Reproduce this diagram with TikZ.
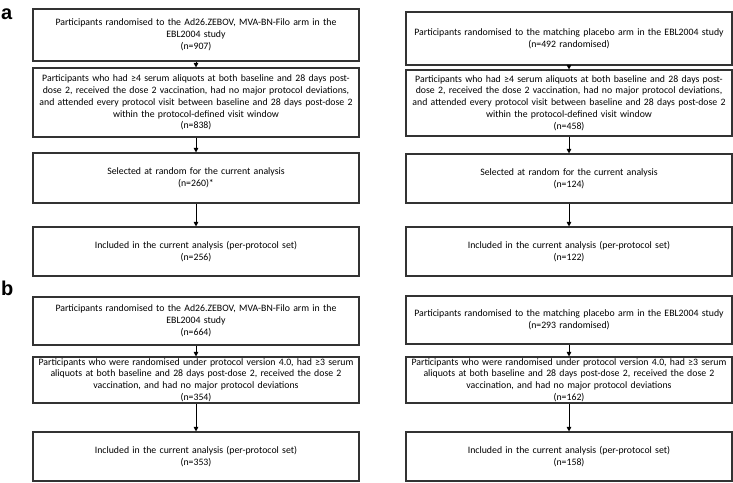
\documentclass[tikz,border=0pt]{standalone}
\usepackage{fontspec}
\setmainfont{Carlito}
\newfontfamily\lblfont{Liberation Sans}
\usetikzlibrary{arrows.meta}
\definecolor{boxline}{HTML}{333333}
\begin{document}
\begin{tikzpicture}[x=1pt,y=-1pt,
  bx/.style={draw=boxline, line width=1.1pt, inner sep=0pt, align=center,
    text width=322pt, minimum width=326pt,
    font=\fontsize{9.8}{11.8}\selectfont},
  arr/.style={-{Triangle[length=4.5pt,width=4.5pt]}, line width=0.9pt, black},
  panel/.style={font=\lblfont\bfseries\fontsize{20}{20}\selectfont, anchor=base west, inner sep=0pt}
]
\useasboundingbox (0,0) rectangle (733,482);
\node[panel] (pa) at (1,19) {a};
\node[panel] (pb) at (1,295) {b};
% panel a, left
\node[bx, minimum height=52pt] (a1) at (196,35) {Participants randomised to the Ad26.ZEBOV, MVA-BN-Filo arm in the\\EBL2004 study\\(n=907)};
\node[bx, minimum height=69pt] (a2) at (196,102.5) {Participants who had ≥4 serum aliquots at both baseline and 28 days post-\\dose 2, received the dose 2 vaccination, had no major protocol deviations,\\and attended every protocol visit between baseline and 28 days post-dose 2\\within the protocol-defined visit window\\(n=838)};
\node[bx, minimum height=50pt] (a3) at (196,178) {Selected at random for the current analysis\\(n=260)*};
\node[bx, minimum height=49pt] (a4) at (196,251.5) {Included in the current analysis (per-protocol set)\\(n=256)};
% panel a, right
\node[bx, minimum height=53pt] (c1) at (569,38.5) {Participants randomised to the matching placebo arm in the EBL2004 study\\(n=492 randomised)};
\node[bx, minimum height=66pt] (c2) at (569,103) {Participants who had ≥4 serum aliquots at both baseline and 28 days post-\\dose 2, received the dose 2 vaccination, had no major protocol deviations,\\and attended every protocol visit between baseline and 28 days post-dose 2\\within the protocol-defined visit window\\(n=458)};
\node[bx, minimum height=49pt] (c3) at (569,178.5) {Selected at random for the current analysis\\(n=124)};
\node[bx, minimum height=49pt] (c4) at (569,251.5) {Included in the current analysis (per-protocol set)\\(n=122)};
% panel b, left
\node[bx, minimum height=48pt] (b1) at (196,321) {Participants randomised to the Ad26.ZEBOV, MVA-BN-Filo arm in the\\EBL2004 study\\(n=664)};
\node[bx, minimum height=46pt] (b2) at (196,380) {Participants who were randomised under protocol version 4.0, had ≥3 serum\\aliquots at both baseline and 28 days post-dose 2, received the dose 2\\vaccination, and had no major protocol deviations\\(n=354)};
\node[bx, minimum height=49pt] (b3) at (196,456.5) {Included in the current analysis (per-protocol set)\\(n=353)};
% panel b, right
\node[bx, minimum height=48pt] (d1) at (569,320) {Participants randomised to the matching placebo arm in the EBL2004 study\\(n=293 randomised)};
\node[bx, minimum height=46pt] (d2) at (569,380) {Participants who were randomised under protocol version 4.0, had ≥3 serum\\aliquots at both baseline and 28 days post-dose 2, received the dose 2\\vaccination, and had no major protocol deviations\\(n=162)};
\node[bx, minimum height=49pt] (d3) at (569,456.5) {Included in the current analysis (per-protocol set)\\(n=158)};
% arrows
\foreach \u/\v in {a1/a2,a2/a3,a3/a4,c1/c2,c2/c3,c3/c4,b1/b2,b2/b3,d1/d2,d2/d3}
  \draw[arr] (\u.south) -- (\v.north);
\end{tikzpicture}
\end{document}
